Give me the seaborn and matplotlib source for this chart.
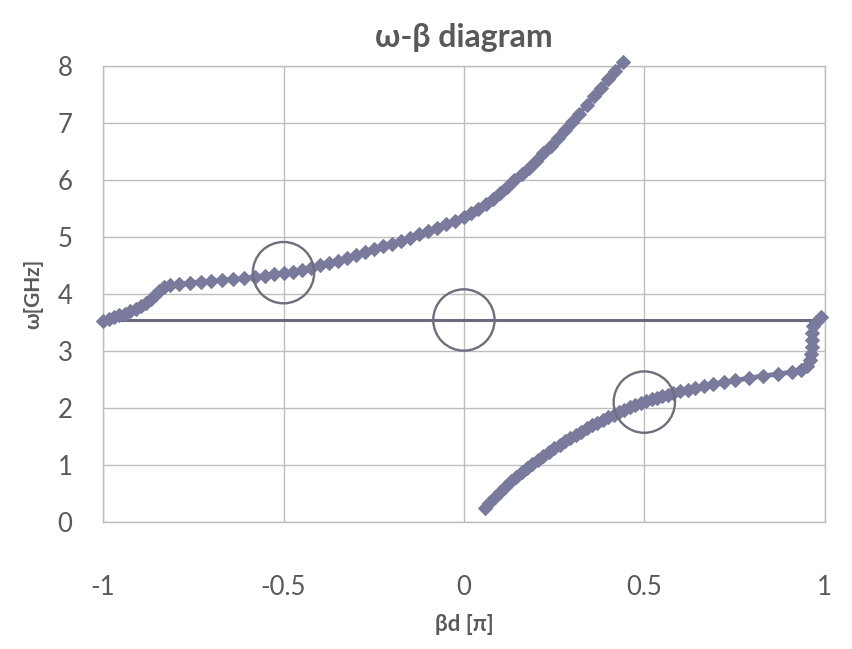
import matplotlib
matplotlib.use("Agg")
import matplotlib.pyplot as plt
import numpy as np
import pandas as pd
import seaborn as sns

# upper dispersion branch
upper_bd = [-1.000, -0.985, -0.970, -0.955, -0.940, -0.925, -0.910, -0.895, -0.880, -0.868,
            -0.856, -0.845, -0.832, -0.815, -0.790, -0.760, -0.730, -0.700, -0.670, -0.640,
            -0.610, -0.580, -0.550, -0.525, -0.500, -0.475, -0.450, -0.425, -0.400, -0.375,
            -0.350, -0.325, -0.300, -0.275, -0.250, -0.225, -0.200, -0.175, -0.150, -0.125,
            -0.100, -0.075, -0.050, -0.025, 0.000, 0.020, 0.040, 0.060, 0.080, 0.100,
            0.120, 0.140, 0.160, 0.180, 0.200, 0.220, 0.240, 0.260, 0.280, 0.300,
            0.320, 0.340, 0.360, 0.380, 0.400, 0.420, 0.440]
upper_w = [3.54, 3.57, 3.60, 3.63, 3.66, 3.70, 3.74, 3.79, 3.85, 3.92,
           3.99, 4.06, 4.12, 4.16, 4.18, 4.20, 4.22, 4.23, 4.25, 4.26,
           4.28, 4.30, 4.33, 4.35, 4.37, 4.40, 4.43, 4.47, 4.51, 4.55,
           4.59, 4.64, 4.69, 4.74, 4.79, 4.84, 4.89, 4.94, 4.99, 5.05,
           5.11, 5.17, 5.23, 5.29, 5.35, 5.42, 5.50, 5.59, 5.68, 5.78,
           5.89, 6.00, 6.11, 6.22, 6.34, 6.47, 6.60, 6.74, 6.88, 7.02,
           7.17, 7.32, 7.47, 7.62, 7.77, 7.92, 8.07]

# lower dispersion branch
lower_bd = [0.058, 0.070, 0.085, 0.100, 0.115, 0.130, 0.145, 0.160, 0.175, 0.190,
            0.205, 0.220, 0.235, 0.250, 0.265, 0.280, 0.295, 0.310, 0.325, 0.340,
            0.355, 0.370, 0.385, 0.400, 0.415, 0.430, 0.445, 0.460, 0.475, 0.490,
            0.505, 0.520, 0.535, 0.550, 0.565, 0.580, 0.600, 0.620, 0.640, 0.665,
            0.690, 0.720, 0.750, 0.790, 0.830, 0.870, 0.910, 0.935, 0.950, 0.958,
            0.962, 0.964, 0.965, 0.966, 0.968, 0.975, 0.989]
lower_w = [0.25, 0.34, 0.44, 0.53, 0.63, 0.72, 0.80, 0.88, 0.96, 1.03,
           1.10, 1.17, 1.24, 1.30, 1.36, 1.42, 1.48, 1.54, 1.59, 1.65,
           1.70, 1.75, 1.80, 1.85, 1.89, 1.94, 1.98, 2.02, 2.06, 2.09,
           2.13, 2.16, 2.19, 2.22, 2.24, 2.27, 2.30, 2.33, 2.36, 2.40,
           2.43, 2.46, 2.49, 2.53, 2.57, 2.60, 2.64, 2.68, 2.74, 2.84,
           2.96, 3.08, 3.20, 3.32, 3.44, 3.52, 3.61]

# light line and highlighted points
light_bd = [-1.0, 1.0]
light_w = [3.55, 3.55]
circle_bd = [-0.5, 0.0, 0.5]
circle_w = [4.38, 3.55, 2.11]

xticks = [-1, -0.5, 0, 0.5, 1]
xticklabels = ["-1", "-0.5", "0", "0.5", "1"]
yticks = [0, 1, 2, 3, 4, 5, 6, 7, 8]

sns.set_style("white")
plt.rcParams["font.family"] = ["Lato", "DejaVu Sans"]

CURVE = "#7a7a9c"
TEXT = "#595959"
GRID = "#bdbdbd"

fig, ax = plt.subplots(figsize=(8.52, 6.49), dpi=100)
fig.subplots_adjust(left=0.121, right=0.968, top=0.898, bottom=0.195)

upper = pd.DataFrame({"bd": upper_bd, "w": upper_w})
lower = pd.DataFrame({"bd": lower_bd, "w": lower_w})
light = pd.DataFrame({"bd": light_bd, "w": light_w})
circles = pd.DataFrame({"bd": circle_bd, "w": circle_w})

sns.lineplot(data=light, x="bd", y="w", ax=ax, color="#6a6a7c", lw=2.2, zorder=3)
for df in (upper, lower):
    sns.lineplot(data=df, x="bd", y="w", ax=ax, sort=False, color=CURVE, lw=3.5,
                 marker="D", markersize=7.5, markeredgecolor=CURVE, zorder=4, clip_on=False)
sns.scatterplot(data=circles, x="bd", y="w", ax=ax, s=1950, facecolor="none",
                edgecolor="#6e6e7c", linewidth=1.7, zorder=5)

ax.set_xlim(-1, 1)
ax.set_ylim(0, 8)
ax.set_xticks(xticks)
ax.set_xticklabels(xticklabels)
ax.set_yticks(yticks)
ax.grid(True, color=GRID, lw=1)
for side in ax.spines.values():
    side.set_color(GRID)
    side.set_linewidth(1)
ax.tick_params(axis="x", length=0, pad=38, labelsize=18.5, labelcolor=TEXT)
ax.tick_params(axis="y", length=0, pad=22, labelsize=18.5, labelcolor=TEXT)

ax.set_title("ω-β diagram", fontsize=23, fontweight="bold", color=TEXT, pad=14)
ax.set_xlabel("βd [π]", fontsize=16, fontweight="bold", color=TEXT, labelpad=10)
ax.set_ylabel("ω[GHz]", fontsize=15, fontweight="bold", color=TEXT, labelpad=10)

fig.savefig("out.png", dpi=100)
